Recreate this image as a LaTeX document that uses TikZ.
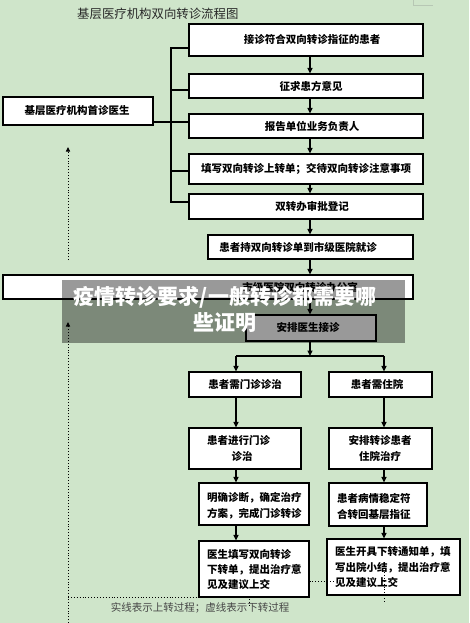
\documentclass[tikz,border=0pt]{standalone}
\usepackage{fontspec}
\newfontfamily\cjk{Noto Sans CJK SC}
\usetikzlibrary{arrows.meta}
\definecolor{bggreen}{RGB}{207,229,202}
\definecolor{titlegray}{RGB}{40,40,40}
\definecolor{legendgray}{RGB}{70,70,70}
\tikzset{
  box/.style={draw=black, line width=1.1pt, fill=white, inner sep=0pt},
  lbl/.style={font=\cjk\bfseries\fontsize{10.5}{15.5}\selectfont, inner sep=0pt, align=left},
  arr/.style={line width=1.4pt, -{Triangle[length=5.5pt,width=5pt]}},
  ln/.style={line width=1.1pt},
  dot/.style={line width=0.9pt, dotted},
  dotarr/.style={dot, -{Triangle[length=4.5pt,width=4pt]}},
}
\begin{document}
\begin{tikzpicture}[x=1pt,y=-1pt]
\fill[bggreen] (0,0) rectangle (469,623);
\useasboundingbox (0,0) rectangle (469,623);
% faint corner mark
\draw[color=bggreen!70!gray, line width=0.8pt] (413,0) -- (413,5) -- (433,5);
% title
\node[anchor=west, inner sep=0, text=titlegray, font=\cjk\fontsize{12.4}{14}\selectfont] (title) at (77,14) {基层医疗机构双向转诊流程图};
% boxes
\node[box, minimum width=234pt, minimum height=32pt] (b1) at (306,40) {};
\node[box, minimum width=234pt, minimum height=24pt] (b2) at (306,86) {};
\node[box, minimum width=234pt, minimum height=24pt] (b3) at (306,126) {};
\node[box, minimum width=234pt, minimum height=30pt] (b4) at (306,169) {};
\node[box, minimum width=234pt, minimum height=25pt] (b5) at (306,206.5) {};
\node[box, minimum width=205pt, minimum height=24pt] (b6) at (310.5,247) {};
\node[box, minimum width=410pt, minimum height=24pt] (b7) at (208,287) {};
\node[box, minimum width=130pt, minimum height=26pt] (b8) at (311,328) {};
\node[box, minimum width=150pt, minimum height=28pt] (lb) at (78,111) {};
\node[box, minimum width=112pt, minimum height=25pt] (L1) at (245,384.5) {};
\node[box, minimum width=103pt, minimum height=25pt] (R1) at (380.5,384.5) {};
\node[box, minimum width=112pt, minimum height=41pt] (L2) at (245,448.5) {};
\node[box, minimum width=103pt, minimum height=41pt] (R2) at (380.5,448.5) {};
\node[box, minimum width=110pt, minimum height=42pt] (L3) at (254,504) {};
\node[box, minimum width=98pt, minimum height=43pt] (R3) at (378,504.5) {};
\node[box, minimum width=110pt, minimum height=56pt] (L4) at (254,569) {};
\node[box, minimum width=133pt, minimum height=56pt] (R4) at (393.5,567) {};
% texts
\node[lbl] (t1) at (312,40) {接诊符合双向转诊指征的患者};
\node[lbl] (t2) at (311,86) {征求患方意见};
\node[lbl] (t3) at (312,126) {报告单位业务负责人};
\node[lbl] (t4) at (306,169) {填写双向转诊上转单；交待双向转诊注意事项};
\node[lbl] (t5) at (312,206.5) {双转办审批登记};
\node[lbl] (t6) at (298,247) {患者持双向转诊单到市级医院就诊};
\node[lbl] (t7) at (300,287) {市级医院双向转诊办公室};
\node[lbl] (t8) at (308,328) {安排医生接诊};
\node[lbl] (tl) at (77,111) {基层医疗机构首诊医生};
\node[lbl] (tL1) at (245,384.5) {患者需门诊诊治};
\node[lbl] (tR1) at (377,384.5) {患者需住院};
\node[lbl, anchor=west] (tL2a) at (207,440) {患者进行门诊};
\node[lbl] (tL2b) at (242,456) {诊治};
\node[lbl, align=center, font=\cjk\bfseries\fontsize{10.5}{16}\selectfont] (tR2) at (380,448) {安排转诊患者\\住院治疗};
\node[lbl, anchor=west, font=\cjk\bfseries\fontsize{10.5}{16}\selectfont] (tL3) at (207,506) {明确诊断，确定治疗\\方案，完成门诊转诊};
\node[lbl, anchor=west, font=\cjk\bfseries\fontsize{10.5}{16}\selectfont] (tR3) at (337,506) {患者病情稳定符\\合转回基层指征};
\node[lbl, anchor=west, font=\cjk\bfseries\fontsize{10.5}{15}\selectfont] (tL4) at (207,570) {医生填写双向转诊\\下转单，提出治疗意\\见及建议上交};
\node[lbl, anchor=west, font=\cjk\bfseries\fontsize{10.5}{15.5}\selectfont] (tR4) at (335,567.5) {医生开具下转通知单，填\\写出院小结，提出治疗意\\见及建议上交};
\node[inner sep=0, text=legendgray, font=\cjk\fontsize{10.5}{12}\selectfont] (legend) at (200,608) {实线表示上转过程；虚线表示下转过程};
% axis coordinates
\coordinate (ax) at (310,0);
\coordinate (lx) at (236,0);
\coordinate (rx) at (384,0);
% main arrows
\draw[arr] (b1.south -| ax) -- (b2.north -| ax);
\draw[arr] (b2.south -| ax) -- (b3.north -| ax);
\draw[arr] (b3.south -| ax) -- (b4.north -| ax);
\draw[arr] (b4.south -| ax) -- (b5.north -| ax);
\draw[arr] (b5.south -| ax) -- (b6.north -| ax);
\draw[arr] (b6.south -| ax) -- (b7.north -| ax);
\draw[arr] (b7.south -| ax) -- (b8.north -| ax);
% bracket
\coordinate (k1) at (171,48);
\coordinate (k2) at (171,90);
\coordinate (k3) at (171,122);
\coordinate (k4) at (171,171);
\coordinate (k5) at (171,202);
\draw[ln] (b1.west |- k1) -- (k1) -- (k5) -- (b5.west |- k5);
\draw[ln] (k2) -- (b2.west |- k2);
\draw[ln] (lb.east |- k3) -- (b3.west |- k3);
\draw[ln] (k4) -- (b4.west |- k4);
% split
\coordinate (sp) at (310,356);
\draw[arr] (b8.south -| ax) -- (sp);
\draw[line width=1.4pt] (lx |- sp) -- (rx |- sp);
\draw[arr] (lx |- sp) -- (L1.north -| lx);
\draw[arr] (rx |- sp) -- (R1.north -| rx);
\draw[arr] (L1.south -| lx) -- (L2.north -| lx);
\draw[arr] (L2.south -| lx) -- (L3.north -| lx);
\draw[arr] (L3.south -| lx) -- (L4.north -| lx);
\draw[arr] (R1.south -| rx) -- (R2.north -| rx);
\draw[arr] (R2.south -| rx) -- (R3.north -| rx);
\draw[arr] (R3.south -| rx) -- (R4.north -| rx);
% dotted lines
\coordinate (d1) at (68,260);
\coordinate (d2) at (68,147);
\coordinate (d3) at (68,623);
\coordinate (d4) at (68,322);
\coordinate (d5) at (68,597);
\coordinate (d6) at (249,597);
\coordinate (d7) at (249,607);
\coordinate (d8) at (334,581);
\coordinate (d9) at (384,572);
\coordinate (d10) at (384,603);
\draw[dotarr] (d1) -- (d2);
\draw[dotarr] (d3) -- (d4);
\draw[dot] (d5) -- (d6) -- (d7);
\draw[dot] (L4.east |- d8) -- (d8);
\draw[dot] (d9) -- (d10);
% overlay banner
\node[fill=black, fill opacity=0.4, minimum width=343pt, minimum height=63pt, inner sep=0] (banner) at (233.5,311.5) {};
\node[inner sep=0, align=center, text=white, font=\cjk\bfseries\fontsize{21}{26}\selectfont] (bannertext) at (225,310) {疫情转诊要求/一般转诊都需要哪\\些证明};
\end{tikzpicture}
\end{document}
